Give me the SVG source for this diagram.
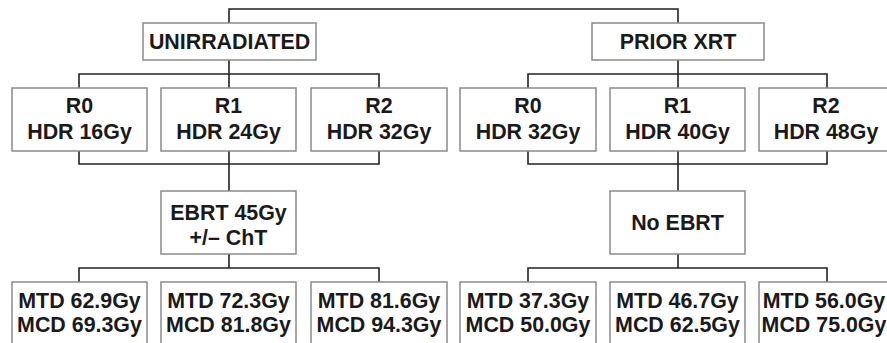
<svg xmlns="http://www.w3.org/2000/svg" width="887" height="343" viewBox="0 0 887 343">
<style>
.box{fill:#fff;stroke:#8a8a8a;stroke-width:1.5}
.t{font-family:"Liberation Sans",Arial,sans-serif;font-weight:bold;font-size:21.4px;fill:#1a1a1a;text-anchor:middle}
.c{fill:none;stroke:#222;stroke-width:1.6}
</style>
<rect width="887" height="343" fill="#fff"/>
<g id="connectors">
<path class="c" d="M229,23V9H678V23"/>
<path class="c" d="M229,60V74M79,88V74H379V88M229,74V88"/>
<path class="c" d="M678,60V74M528,88V74H827V88M678,74V88"/>
<path class="c" d="M79,151V164H379V151M229,151V191"/>
<path class="c" d="M528,151V164H827V151M678,151V191"/>
<path class="c" d="M229,254V268M79,282V268H379V282"/>
<path class="c" d="M678,254V268M528,282V268H827V282"/>
</g>
<g id="unirradiated"><rect class="box" x="143" y="23" width="173" height="37"/><text class="t" x="229.5" y="49">UNIRRADIATED</text></g>
<g id="prior-xrt"><rect class="box" x="592" y="23" width="172" height="37"/><text class="t" x="678" y="49">PRIOR XRT</text></g>
<g id="u-r0"><rect class="box" x="12" y="88" width="135" height="63"/><text class="t" x="79.5" y="113">R0</text><text class="t" x="79.5" y="139">HDR 16Gy</text></g>
<g id="u-r1"><rect class="box" x="161" y="88" width="135" height="63"/><text class="t" x="228.5" y="113">R1</text><text class="t" x="228.5" y="139">HDR 24Gy</text></g>
<g id="u-r2"><rect class="box" x="311" y="88" width="136" height="63"/><text class="t" x="379" y="113">R2</text><text class="t" x="379" y="139">HDR 32Gy</text></g>
<g id="p-r0"><rect class="box" x="460" y="88" width="136" height="63"/><text class="t" x="528" y="113">R0</text><text class="t" x="528" y="139">HDR 32Gy</text></g>
<g id="p-r1"><rect class="box" x="610" y="88" width="135" height="63"/><text class="t" x="677.5" y="113">R1</text><text class="t" x="677.5" y="139">HDR 40Gy</text></g>
<g id="p-r2"><rect class="box" x="759" y="88" width="136" height="63"/><text class="t" x="826" y="113">R2</text><text class="t" x="826" y="139">HDR 48Gy</text></g>
<g id="ebrt"><rect class="box" x="161" y="191" width="135" height="63"/><text class="t" x="228.5" y="220">EBRT 45Gy</text><text class="t" x="228.5" y="245">+/– ChT</text></g>
<g id="no-ebrt"><rect class="box" x="610" y="191" width="135" height="63"/><text class="t" x="677.5" y="230">No EBRT</text></g>
<g id="u-m0"><rect class="box" x="12" y="282" width="135" height="70"/><text class="t" x="79.5" y="308">MTD 62.9Gy</text><text class="t" x="79.5" y="332">MCD 69.3Gy</text></g>
<g id="u-m1"><rect class="box" x="161" y="282" width="135" height="70"/><text class="t" x="228.5" y="308">MTD 72.3Gy</text><text class="t" x="228.5" y="332">MCD 81.8Gy</text></g>
<g id="u-m2"><rect class="box" x="311" y="282" width="136" height="70"/><text class="t" x="379" y="308">MTD 81.6Gy</text><text class="t" x="379" y="332">MCD 94.3Gy</text></g>
<g id="p-m0"><rect class="box" x="460" y="282" width="136" height="70"/><text class="t" x="528" y="308">MTD 37.3Gy</text><text class="t" x="528" y="332">MCD 50.0Gy</text></g>
<g id="p-m1"><rect class="box" x="610" y="282" width="135" height="70"/><text class="t" x="677.5" y="308">MTD 46.7Gy</text><text class="t" x="677.5" y="332">MCD 62.5Gy</text></g>
<g id="p-m2"><rect class="box" x="759" y="282" width="136" height="70"/><text class="t" x="824" y="308">MTD 56.0Gy</text><text class="t" x="824" y="332">MCD 75.0Gy</text></g>
</svg>
